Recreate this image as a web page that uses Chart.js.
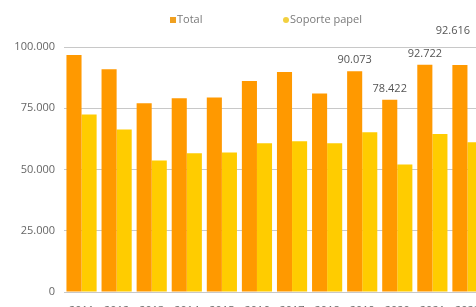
<!DOCTYPE html>
<html>
<head>
<meta charset="utf-8">
<script src="https://cdn.jsdelivr.net/npm/chart.js@4/dist/chart.umd.min.js"></script>
<style>
  html, body { margin: 0; padding: 0; background: #fff; overflow: hidden; }
  #wrap { position: relative; width: 495px; height: 318px; }
</style>
</head>
<body>
<div id="wrap"><canvas id="c" width="495" height="318"></canvas></div>
<script>
const categories = ['2011','2012','2013','2014','2015','2016','2017','2018','2019','2020','2021','2022'];
const totalValues = [96700, 90900, 77000, 79100, 79400, 86100, 89800, 81000, 90073, 78422, 92722, 92616];
const papelValues = [72400, 66300, 53700, 56600, 56900, 60700, 61500, 60700, 65200, 52000, 64500, 61100];
const labeledIndexes = [8, 9, 10, 11];
const yTicks = [0, 25000, 50000, 75000, 100000];
const seriesNames = ['Total', 'Soporte papel'];

const fmt = v => v.toLocaleString('de-DE');
const FONT = "'Open Sans', 'Lato', sans-serif";

const legendPlugin = {
  id: 'customLegend',
  afterDraw(chart) {
    const ctx = chart.ctx;
    ctx.save();
    ctx.font = "11px " + FONT;
    ctx.textBaseline = 'middle';
    const items = [
      {x: 170, style: 'rect', color: '#F0A020', text: seriesNames[0]},
      {x: 283, style: 'circle', color: '#F2D040', text: seriesNames[1]}
    ];
    const y = 20;
    items.forEach(it => {
      ctx.fillStyle = it.color;
      if (it.style === 'rect') {
        ctx.fillRect(it.x, y - 3, 6, 6);
      } else {
        ctx.beginPath(); ctx.arc(it.x + 3, y, 3, 0, Math.PI * 2); ctx.fill();
      }
      ctx.fillStyle = '#7a7a7a';
      ctx.textAlign = 'left';
      ctx.fillText(it.text, it.x + 7, y);
    });
    ctx.restore();
  }
};

const dataLabelPlugin = {
  id: 'dataLabels',
  afterDatasetsDraw(chart) {
    const ctx = chart.ctx;
    const meta = chart.getDatasetMeta(0);
    ctx.save();
    ctx.font = "11px " + FONT;
    ctx.fillStyle = '#555';
    ctx.textAlign = 'center';
    ctx.textBaseline = 'middle';
    labeledIndexes.forEach(i => {
      const bar = meta.data[i];
      const isLast = i === categories.length - 1;
      const y = isLast ? chart.chartArea.top - 16 : bar.y - 11;
      const x = isLast ? bar.x - 7 : bar.x;
      ctx.fillText(fmt(totalValues[i]), x, y);
    });
    ctx.restore();
  }
};

new Chart(document.getElementById('c'), {
  type: 'bar',
  data: {
    labels: categories,
    datasets: [
      { label: seriesNames[0], data: totalValues, backgroundColor: '#FF9900', barPercentage: 1, categoryPercentage: 0.86 },
      { label: seriesNames[1], data: papelValues, backgroundColor: '#FFCC00', barPercentage: 1, categoryPercentage: 0.86 }
    ]
  },
  options: {
    responsive: false,
    animation: false,
    layout: { padding: { top: 47, right: 10, left: 0, bottom: 0 } },
    plugins: { legend: { display: false }, tooltip: { enabled: false } },
    scales: {
      x: {
        grid: { display: false },
        border: { display: false },
        ticks: { color: '#666', font: { family: FONT, size: 11 }, padding: 4, maxRotation: 0 },
        afterFit(s) { s.height = 26; }
      },
      y: {
        min: 0, max: 100000,
        afterBuildTicks(s) { s.ticks = yTicks.map(v => ({ value: v })); },
        grid: { color: '#c8c8c8', drawTicks: false },
        border: { display: false },
        ticks: { color: '#666', font: { family: FONT, size: 11 }, padding: 9, callback: v => fmt(v) },
        afterFit(s) { s.width = 64; }
      }
    }
  },
  plugins: [legendPlugin, dataLabelPlugin]
});
</script>
</body>
</html>
